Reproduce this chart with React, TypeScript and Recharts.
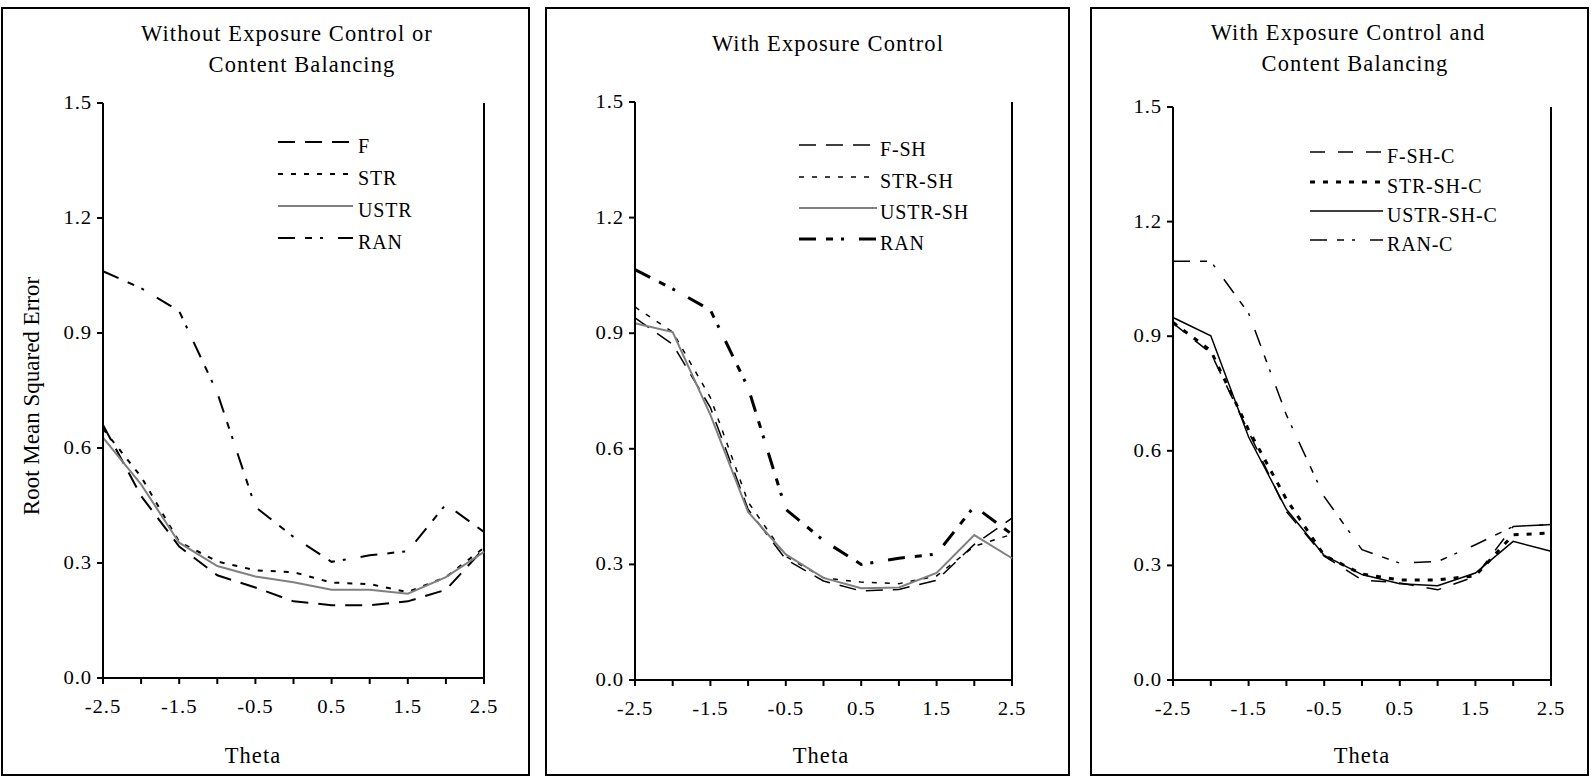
import React from "react";
import { LineChart, Line, XAxis, YAxis, ReferenceLine } from "recharts";

const THETA = [-2.5, -2, -1.5, -1, -0.5, 0, 0.5, 1, 1.5, 2, 2.5];
const X_LABELS = [-2.5, -1.5, -0.5, 0.5, 1.5, 2.5];
const Y_TICKS = [0, 0.3, 0.6, 0.9, 1.2, 1.5];

// panel 1: without exposure control or content balancing
const F = [0.66, 0.475, 0.343, 0.268, 0.236, 0.2, 0.19, 0.19, 0.2, 0.23, 0.338];
const STR = [0.65, 0.525, 0.355, 0.304, 0.281, 0.276, 0.249, 0.245, 0.224, 0.263, 0.34];
const USTR = [0.627, 0.505, 0.353, 0.292, 0.265, 0.25, 0.23, 0.23, 0.22, 0.263, 0.329];
const RAN = [1.061, 1.017, 0.957, 0.744, 0.446, 0.368, 0.303, 0.32, 0.331, 0.453, 0.381];

// panel 2: with exposure control
const F_SH = [0.94, 0.871, 0.707, 0.443, 0.313, 0.257, 0.231, 0.235, 0.259, 0.352, 0.42];
const STR_SH = [0.968, 0.903, 0.733, 0.462, 0.321, 0.265, 0.254, 0.25, 0.27, 0.347, 0.378];
const USTR_SH = [0.926, 0.903, 0.688, 0.436, 0.326, 0.265, 0.238, 0.24, 0.278, 0.376, 0.316];
const RAN_SH = [1.065, 1.015, 0.96, 0.759, 0.443, 0.362, 0.3, 0.316, 0.327, 0.451, 0.378];

// panel 3: with exposure control and content balancing
const F_SH_C = [0.934, 0.856, 0.65, 0.441, 0.324, 0.262, 0.254, 0.236, 0.271, 0.402, 0.407];
const STR_SH_C = [0.936, 0.862, 0.655, 0.473, 0.326, 0.277, 0.262, 0.262, 0.273, 0.38, 0.385];
const USTR_SH_C = [0.949, 0.901, 0.636, 0.447, 0.326, 0.276, 0.252, 0.247, 0.28, 0.363, 0.337];
const RAN_C = [1.096, 1.096, 0.96, 0.694, 0.48, 0.341, 0.306, 0.31, 0.354, 0.402, 0.407];

const FONT = "Liberation Serif, Times New Roman, DejaVu Serif, serif";

type Series = {
  name: string;
  values: number[];
  stroke: string;
  width: number;
  dash?: string;
};

type PanelProps = {
  frame: [number, number]; // left, right of the box
  plot: { left: number; right: number; top: number; bottom: number };
  titles: { text: string; x: number; y: number }[];
  series: Series[];
  legend: { x1: number; x2: number; tx: number; rows: number[] };
  thetaX: number;
  yLabel?: boolean;
};

const LONG = "17 10";
const DOTS = "5 8";
const DASHDOT = "17 10 7 8 3 15";

const panels: PanelProps[] = [
  {
    frame: [1, 530],
    plot: { left: 103, right: 484, top: 103, bottom: 678 },
    titles: [
      { text: "Without Exposure Control or", x: 287, y: 34 },
      { text: "Content Balancing", x: 302, y: 65 },
    ],
    series: [
      { name: "F", values: F, stroke: "#000", width: 2, dash: LONG },
      { name: "STR", values: STR, stroke: "#000", width: 2, dash: DOTS },
      { name: "USTR", values: USTR, stroke: "#808080", width: 2 },
      { name: "RAN", values: RAN, stroke: "#000", width: 2, dash: DASHDOT },
    ],
    legend: { x1: 278, x2: 353, tx: 358, rows: [146, 178, 210, 242] },
    thetaX: 253,
    yLabel: true,
  },
  {
    frame: [545, 1070],
    plot: { left: 635, right: 1012, top: 102, bottom: 680 },
    titles: [{ text: "With Exposure Control", x: 828, y: 44 }],
    series: [
      { name: "F-SH", values: F_SH, stroke: "#000", width: 1.5, dash: LONG },
      { name: "STR-SH", values: STR_SH, stroke: "#000", width: 1.5, dash: DOTS },
      { name: "USTR-SH", values: USTR_SH, stroke: "#808080", width: 2 },
      { name: "RAN", values: RAN_SH, stroke: "#000", width: 3, dash: DASHDOT },
    ],
    legend: { x1: 799, x2: 877, tx: 880, rows: [149, 181, 212, 243] },
    thetaX: 821,
  },
  {
    frame: [1090, 1589],
    plot: { left: 1173, right: 1551, top: 107, bottom: 680 },
    titles: [
      { text: "With Exposure Control and", x: 1348, y: 33 },
      { text: "Content Balancing", x: 1355, y: 64 },
    ],
    series: [
      { name: "F-SH-C", values: F_SH_C, stroke: "#000", width: 1.5, dash: "15 13" },
      { name: "STR-SH-C", values: STR_SH_C, stroke: "#000", width: 3, dash: "5 8" },
      { name: "USTR-SH-C", values: USTR_SH_C, stroke: "#000", width: 1.5 },
      { name: "RAN-C", values: RAN_C, stroke: "#000", width: 1.5, dash: DASHDOT },
    ],
    legend: { x1: 1310, x2: 1383, tx: 1387, rows: [156, 186, 215, 244] },
    thetaX: 1362,
  },
];

const Y_AXIS_W = 60;
const X_AXIS_H = 40;
const TOTAL_H = 779;
const TICK_FONT = 18;
const TICK_STRETCH = 1.15;

const XTick = (props: any) => {
  const { x, y, payload } = props;
  const v = payload.value as number;
  if (!X_LABELS.includes(v)) return null;
  return (
    <text
      transform={`translate(${x},${y + 21}) scale(${TICK_STRETCH},1)`}
      textAnchor="middle"
      dominantBaseline="central"
      fontFamily={FONT}
      fontSize={TICK_FONT}
      letterSpacing={0.8}
      fill="#000"
    >
      {v.toFixed(1)}
    </text>
  );
};

const YTick = (props: any) => {
  const { x, y, payload } = props;
  const v = payload.value as number;
  return (
    <text
      transform={`translate(${x - 3},${y}) scale(${TICK_STRETCH},1)`}
      textAnchor="end"
      dominantBaseline="central"
      fontFamily={FONT}
      fontSize={TICK_FONT}
      letterSpacing={0.8}
      fill="#000"
    >
      {v.toFixed(1)}
    </text>
  );
};

const Panel: React.FC<PanelProps> = ({ frame, plot, titles, series, legend, thetaX, yLabel }) => {
  const [fl, fr] = frame;
  const chartW = fr - fl;
  const data = THETA.map((t, i) => {
    const row: Record<string, number> = { theta: t };
    series.forEach((s) => (row[s.name] = s.values[i]));
    return row;
  });

  return (
    <>
      <div
        style={{
          position: "absolute",
          left: fl,
          top: 7,
          width: chartW - 4,
          height: 769 - 4,
          border: "2px solid #000",
        }}
      />
      <div style={{ position: "absolute", left: fl, top: 0 }}>
        <LineChart
          width={chartW}
          height={TOTAL_H}
          data={data}
          margin={{
            top: plot.top,
            bottom: TOTAL_H - plot.bottom - X_AXIS_H,
            left: plot.left - fl - Y_AXIS_W,
            right: fr - plot.right,
          }}
        >
          <XAxis
            dataKey="theta"
            type="number"
            domain={[-2.5, 2.5]}
            ticks={THETA}
            interval={0}
            height={X_AXIS_H}
            tickSize={6}
            axisLine={{ stroke: "#000", strokeWidth: 2 }}
            tickLine={{ stroke: "#000", strokeWidth: 2 }}
            tick={<XTick />}
          />
          <YAxis
            type="number"
            domain={[0, 1.5]}
            ticks={Y_TICKS}
            interval={0}
            width={Y_AXIS_W}
            tickSize={6}
            axisLine={{ stroke: "#000", strokeWidth: 2 }}
            tickLine={{ stroke: "#000", strokeWidth: 2 }}
            tick={<YTick />}
          />
          <ReferenceLine x={2.5} stroke="#000" strokeWidth={2} />
          {series.map((s) => (
            <Line
              key={s.name}
              dataKey={s.name}
              type="linear"
              stroke={s.stroke}
              strokeWidth={s.width}
              strokeDasharray={s.dash}
              dot={false}
              activeDot={false}
              isAnimationActive={false}
            />
          ))}
        </LineChart>
      </div>

      {/* legend */}
      <svg
        style={{ position: "absolute", left: 0, top: 0, pointerEvents: "none" }}
        width={1591}
        height={TOTAL_H}
      >
        {series.map((s, i) => (
          <g key={s.name}>
            <line
              x1={legend.x1}
              x2={legend.x2}
              y1={legend.rows[i] - 4}
              y2={legend.rows[i] - 4}
              stroke={s.stroke}
              strokeWidth={s.width}
              strokeDasharray={s.dash}
            />
            <text
              x={legend.tx}
              y={legend.rows[i]}
              dominantBaseline="central"
              fontFamily={FONT}
              fontSize={20}
              letterSpacing={0.8}
              fill="#000"
            >
              {s.name}
            </text>
          </g>
        ))}
      </svg>

      {titles.map((t) => (
        <div
          key={t.text}
          style={{
            position: "absolute",
            left: t.x - 200,
            width: 400,
            top: t.y - 14,
            height: 28,
            lineHeight: "28px",
            textAlign: "center",
            fontFamily: FONT,
            fontSize: 22.5,
            letterSpacing: 1.1,
            whiteSpace: "nowrap",
          }}
        >
          {t.text}
        </div>
      ))}

      <div
        style={{
          position: "absolute",
          left: thetaX - 60,
          width: 120,
          top: 756 - 14,
          height: 28,
          lineHeight: "28px",
          textAlign: "center",
          fontFamily: FONT,
          fontSize: 22.5,
          letterSpacing: 1.1,
        }}
      >
        Theta
      </div>

      {yLabel && (
        <div
          style={{
            position: "absolute",
            left: 32 - 160,
            top: 396 - 14,
            width: 320,
            height: 28,
            lineHeight: "28px",
            textAlign: "center",
            fontFamily: FONT,
            fontSize: 23,
            transform: "rotate(-90deg)",
            whiteSpace: "nowrap",
          }}
        >
          Root Mean Squared Error
        </div>
      )}
    </>
  );
};

export default function App() {
  return (
    <div
      style={{
        position: "absolute",
        left: 0,
        top: 0,
        width: 1591,
        height: TOTAL_H,
        background: "#fff",
        overflow: "hidden",
      }}
    >
      {panels.map((p, i) => (
        <Panel key={i} {...p} />
      ))}
    </div>
  );
}
